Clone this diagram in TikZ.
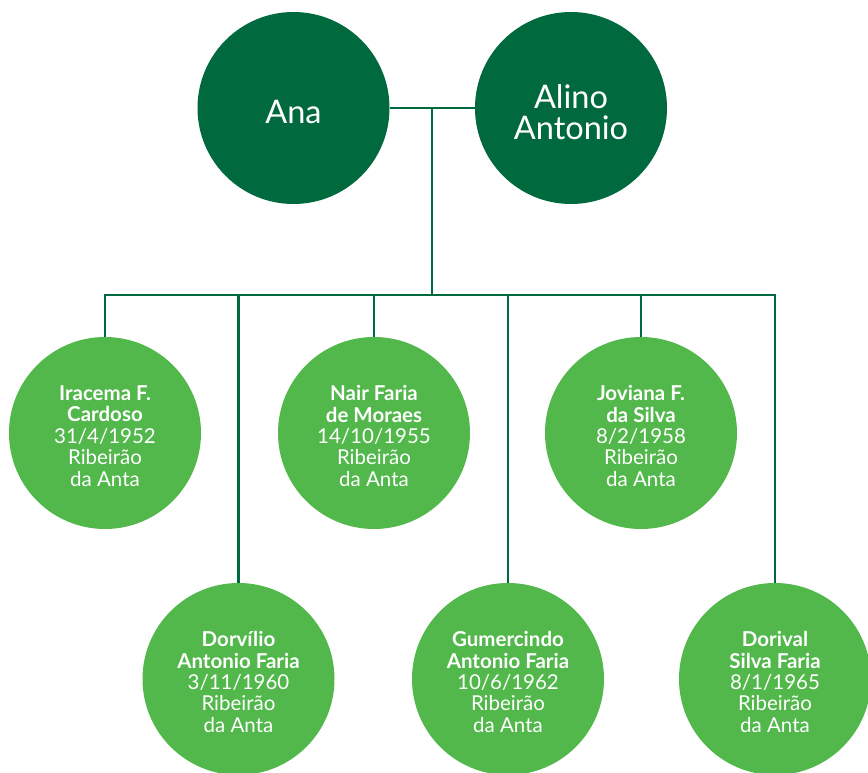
\documentclass[tikz,border=0pt]{standalone}
\usepackage{fontspec}
\setmainfont{Lato}
\definecolor{darkgreen}{RGB}{0,105,62}
\definecolor{leafgreen}{RGB}{82,184,75}
\begin{document}
\begin{tikzpicture}[x=1pt,y=-1pt,
  parent/.style={circle,fill=darkgreen,minimum size=192pt,inner sep=0pt},
  child/.style={circle,fill=leafgreen,minimum size=192pt,inner sep=0pt},
  parenttext/.style={text=white,align=center,inner sep=0pt,
    font=\fontsize{32.5}{31.5}\selectfont},
  childtext/.style={text=white,align=center,inner sep=0pt,
    font=\fontsize{20.5}{21.4}\selectfont},
  link/.style={draw=darkgreen,line width=2.6pt,line join=miter}]
\useasboundingbox (0,0) rectangle (868,773);

% parents
\node[parent] (ana) at (293.5,108) {};
\node[parent] (alino) at (571,108) {};
\node[parenttext] (ana-t) at ([yshift=-4pt]ana.center) {Ana};
\node[parenttext] (alino-t) at ([yshift=-4pt]alino.center) {Alino\\Antonio};

% children, upper row
\node[child] (iracema) at (105,433) {};
\node[child] (nair) at (374,433) {};
\node[child] (joviana) at (641,433) {};
% children, lower row
\node[child] (dorvilio) at (238.5,679) {};
\node[child] (gumercindo) at (508,679) {};
\node[child] (dorival) at (775,679) {};

% names, birth dates and places
\node[childtext] (iracema-t) at ([yshift=-3pt]iracema.center) {\textbf{Iracema F.}\\\textbf{Cardoso}\\31/4/1952\\Ribeirão\\da Anta};
\node[childtext] (nair-t) at ([yshift=-3pt]nair.center) {\textbf{Nair Faria}\\\textbf{de Moraes}\\14/10/1955\\Ribeirão\\da Anta};
\node[childtext] (joviana-t) at ([yshift=-3pt]joviana.center) {\textbf{Joviana F.}\\\textbf{da Silva}\\8/2/1958\\Ribeirão\\da Anta};
\node[childtext] (dorvilio-t) at ([yshift=-3pt]dorvilio.center) {\textbf{Dorvílio}\\\textbf{Antonio Faria}\\3/11/1960\\Ribeirão\\da Anta};
\node[childtext] (gumercindo-t) at ([yshift=-3pt]gumercindo.center) {\textbf{Gumercindo}\\\textbf{Antonio Faria}\\10/6/1962\\Ribeirão\\da Anta};
\node[childtext] (dorival-t) at ([yshift=-3pt]dorival.center) {\textbf{Dorival}\\\textbf{Silva Faria}\\8/1/1965\\Ribeirão\\da Anta};

% couple line and descent
\coordinate (junction) at (432,108);
\coordinate (bar) at (432,295);
\draw[link] (ana.east) -- (alino.west);
\draw[link] (junction) -- (bar);

% sibling bar with drops
\draw[link] (iracema.north) |- (bar) -| (dorival.north);
\draw[link] (dorvilio.north) -- (dorvilio.north |- bar);
\draw[link] (nair.north) -- (nair.north |- bar);
\draw[link] (gumercindo.north) -- (gumercindo.north |- bar);
\draw[link] (joviana.north) -- (joviana.north |- bar);
\end{tikzpicture}
\end{document}
